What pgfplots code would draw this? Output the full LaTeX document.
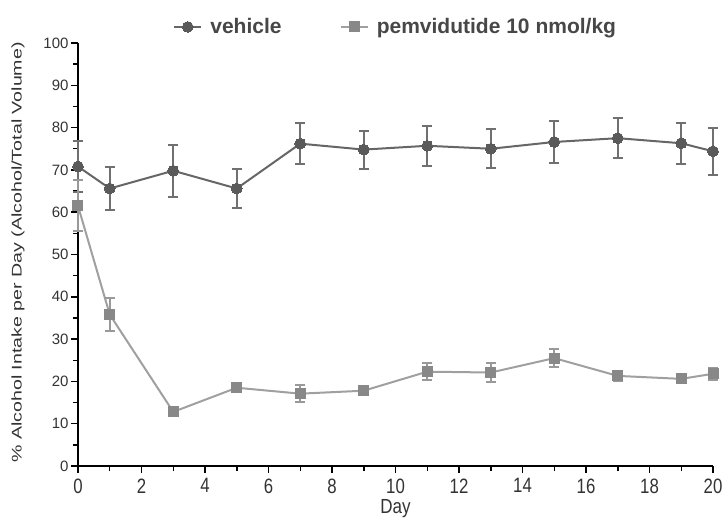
\documentclass[border=0pt]{standalone}
\usepackage{pgfplots}
\pgfplotsset{compat=1.18}
\usepackage{fontspec}
\setmainfont{Liberation Sans}
\definecolor{veh}{HTML}{5A5A5A}
\definecolor{vehline}{HTML}{666666}
\definecolor{veherr}{HTML}{707070}
\definecolor{pem}{HTML}{888888}
\definecolor{pemline}{HTML}{A0A0A0}
\definecolor{pemerr}{HTML}{999999}
\begin{document}
\begin{tikzpicture}
\begin{axis}[
  scale only axis,
  width=635pt, height=423pt,
  xmin=0, xmax=20, ymin=0, ymax=100,
  axis lines=left,
  axis line style={black, line width=1.8pt, -},
  xtick={0,2,...,20}, ytick={0,10,...,100},
  minor xtick={1,3,...,19}, minor ytick={5,15,...,95},
  tick align=outside,
  major tick length=7pt, minor tick length=5pt,
  tick style={black, line width=1.5pt},
  /pgf/number format/assume math mode=true,
  yticklabel style={font=\fontsize{15}{17}\selectfont, text=black!80, xshift=1pt},
  xticklabel={\scalebox{1.05}[1.3]{\pgfmathprintnumber{\tick}}},
  xticklabel style={font=\fontsize{16}{18}\selectfont, text=black!80, yshift=-2pt},
  xlabel={\scalebox{1}[1.2]{Day}},
  xlabel style={font=\fontsize{17}{19}\selectfont, text=black!80, at={(rel axis cs:0.5,0)}, anchor=center, yshift=-43pt},
  ylabel={\scalebox{1.4}[1]{\% Alcohol Intake per Day (Alcohol/Total Volume)}},
  ylabel style={font=\fontsize{14}{16}\selectfont, text=black!80, at={(rel axis cs:-0.0945,0.5)}, anchor=center, xshift=2pt},
  clip=false,
  legend columns=2,
  legend style={draw=none, fill=none, inner sep=0pt, at={(rel axis cs:0.1496,1.038)}, anchor=west,
    font=\fontsize{21}{23}\selectfont\bfseries, text=black!72,
    /tikz/every even column/.append style={column sep=56pt},
    /tikz/every odd column/.append style={column sep=6pt}},
  legend image code/.code={\draw[#1, line width=2.2pt] (0pt,0pt) -- (27pt,0pt); \draw[#1, only marks] plot coordinates {(13.5pt,0pt)};},
]
\addplot[vehline, line width=2pt, mark=*, mark size=5.4pt, mark options={veh, fill=veh, draw=veh, line width=0pt},
  error bars/.cd, y dir=both, y explicit, error bar style={veherr, line width=2pt}, error mark options={rotate=90, mark size=5pt, line width=2pt, veherr}]
  table[x=x, y=y, y error=e] {
x y e
0 70.8 6.0
1 65.6 5.0
3 69.8 6.1
5 65.6 4.6
7 76.2 4.9
9 74.8 4.5
11 75.7 4.7
13 75.0 4.6
15 76.6 5.0
17 77.5 4.8
19 76.3 4.8
20 74.4 5.5
};
\addlegendentry{vehicle}
\addplot[pemline, line width=2pt, mark=square*, mark size=5pt, mark options={pem, fill=pem, draw=pem, line width=0pt},
  error bars/.cd, y dir=both, y explicit, error bar style={pemerr, line width=2pt}, error mark options={rotate=90, mark size=5pt, line width=2pt, pemerr}]
  table[x=x, y=y, y error=e] {
x y e
0 61.5 6.0
1 35.8 4.0
3 12.8 0.6
5 18.5 0.7
7 17.1 2.0
9 17.8 1.0
11 22.3 2.0
13 22.1 2.2
15 25.5 2.2
17 21.3 1.2
19 20.6 0.8
20 21.8 1.4
};
\addlegendentry{pemvidutide 10 nmol/kg}
\coordinate (ll) at (rel axis cs:0,0);
\coordinate (ur) at (rel axis cs:1,1);
\end{axis}
\pgfresetboundingbox
\path ([shift={(-78pt,-53pt)}]ll) rectangle ([shift={(11pt,43pt)}]ur);
\end{tikzpicture}
\end{document}
